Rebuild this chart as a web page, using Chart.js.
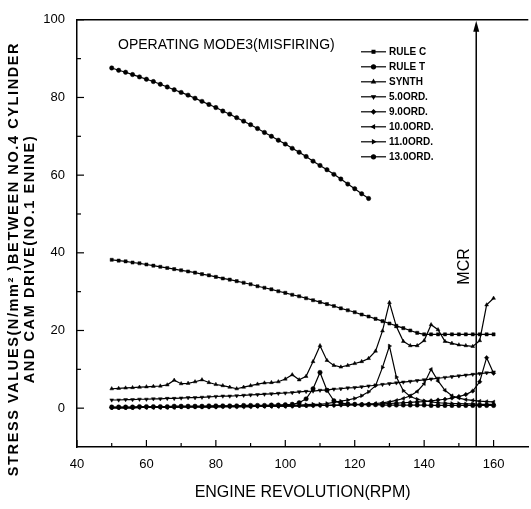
<!DOCTYPE html>
<html><head><meta charset="utf-8">
<script src="https://cdn.jsdelivr.net/npm/chart.js@4/dist/chart.umd.min.js"></script>
<style>html,body{margin:0;padding:0;background:#fff;overflow:hidden}#wrap{width:531px;height:509px;position:relative}</style>
</head><body><div id="wrap"><canvas id="c" width="531" height="509"></canvas></div>
<script>
// ---- data ----
const rpm = [50,52,54,56,58,60,62,64,66,68,70,72,74,76,78,80,82,84,86,88,90,92,94,96,98,100,102,104,106,108,110,112,114,116,118,120,122,124,126,128,130,132,134,136,138,140,142,144,146,148,150,152,154,156,158,160];
const rpmRuleT = [50,52,54,56,58,60,62,64,66,68,70,72,74,76,78,80,82,84,86,88,90,92,94,96,98,100,102,104,106,108,110,112,114,116,118,120,122,124];
const ruleC = [38.2,38.0,37.8,37.5,37.3,37.0,36.7,36.4,36.1,35.8,35.5,35.2,34.9,34.5,34.2,33.8,33.4,33.1,32.7,32.3,31.9,31.4,31.0,30.6,30.1,29.7,29.2,28.8,28.3,27.8,27.3,26.8,26.3,25.7,25.2,24.7,24.1,23.6,23.0,22.4,21.8,21.2,20.6,20.0,19.4,19.0,19.0,19.0,19.0,19.0,19.0,19.0,19.0,19.0,19.0,19.0];
const ruleT = [87.6,87.0,86.5,85.9,85.3,84.7,84.1,83.4,82.7,82.0,81.3,80.6,79.8,79.0,78.2,77.4,76.5,75.7,74.8,73.9,73.0,72.0,71.0,70.0,69.0,68.0,66.9,65.9,64.8,63.6,62.5,61.4,60.2,59.0,57.7,56.5,55.2,54.0];
const synth = [5.0,5.1,5.2,5.3,5.4,5.5,5.6,5.7,6.0,7.2,6.3,6.4,6.8,7.3,6.6,6.1,5.8,5.4,5.0,5.4,5.8,6.2,6.5,6.6,6.8,7.5,8.6,7.3,8.2,12.0,16.1,12.3,11.0,10.6,11.0,11.5,12.0,12.8,14.7,19.9,27.2,21.0,17.2,16.1,16.1,17.4,21.5,20.2,17.2,16.7,16.3,16.1,15.9,17.4,26.6,28.3];
const ord5 = [2.1,2.1,2.2,2.2,2.3,2.3,2.4,2.4,2.5,2.5,2.6,2.7,2.7,2.8,2.9,3.0,3.1,3.1,3.2,3.3,3.4,3.5,3.6,3.7,3.8,3.9,4.0,4.2,4.3,4.4,4.6,4.7,4.9,5.0,5.2,5.3,5.5,5.7,5.9,6.1,6.3,6.5,6.7,6.9,7.1,7.3,7.5,7.7,7.9,8.1,8.3,8.5,8.7,8.9,9.1,9.3];
const ord9 = [0.1,0.1,0.1,0.1,0.2,0.2,0.2,0.2,0.2,0.2,0.3,0.3,0.3,0.3,0.3,0.3,0.4,0.4,0.4,0.4,0.4,0.5,0.5,0.5,0.5,0.5,0.5,0.6,0.6,0.6,0.7,0.7,0.7,0.8,0.8,0.9,0.9,1.0,1.0,1.1,1.2,1.3,1.4,1.5,1.6,1.7,1.9,2.1,2.3,2.6,3.0,3.5,4.4,6.8,13.0,9.0];
const ord10 = [0.1,0.1,0.1,0.1,0.2,0.2,0.2,0.2,0.2,0.2,0.3,0.3,0.3,0.3,0.3,0.3,0.4,0.4,0.4,0.4,0.4,0.5,0.5,0.5,0.5,0.5,0.6,0.6,0.6,0.7,0.7,0.7,0.8,0.8,0.9,0.9,1.0,1.1,1.2,1.4,1.6,2.0,2.5,3.2,4.3,6.3,10.0,7.0,4.6,3.2,2.6,2.2,2.0,1.8,1.7,1.6];
const ord11 = [0.2,0.2,0.2,0.2,0.3,0.3,0.3,0.3,0.3,0.3,0.4,0.4,0.4,0.4,0.4,0.5,0.5,0.5,0.5,0.6,0.6,0.6,0.6,0.7,0.7,0.7,0.8,0.8,0.9,1.0,1.0,1.2,1.5,1.8,2.1,2.5,3.2,4.2,5.8,10.5,16.0,8.0,4.5,3.0,2.3,1.9,1.6,1.4,1.3,1.2,1.2,1.1,1.1,1.0,1.0,1.0];
const ord13 = [0.3,0.3,0.3,0.3,0.4,0.4,0.4,0.4,0.4,0.5,0.5,0.5,0.5,0.5,0.6,0.6,0.6,0.6,0.6,0.7,0.7,0.7,0.7,0.8,0.8,0.9,1.0,1.4,2.4,5.0,9.2,4.6,1.9,1.3,1.1,1.0,0.9,0.9,0.9,0.8,0.8,0.8,0.8,0.8,0.8,0.8,0.7,0.7,0.7,0.7,0.7,0.7,0.7,0.7,0.7,0.7];
const seriesNames = ["RULE C","RULE T","SYNTH","5.0ORD.","9.0ORD.","10.0ORD.","11.0ORD.","13.0ORD."];
const xTickLabels = [40,60,80,100,120,140,160];
const xMinorTicks = [50,70,90,110,130,150];
const yTickLabels = [0,20,40,60,80,100];
const yMinorTicks = [10,30,50,70,90];
const mcrRpm = 155;
const chartTitle = "OPERATING MODE3(MISFIRING)";
const xTitle = "ENGINE REVOLUTION(RPM)";
const yTitleLines = ["STRESS VALUES(N/mm\u00B2 )BETWEEN NO.4 CYLINDER", "AND CAM DRIVE(NO.1 ENINE)"];

// ---- styling ----
const NARROW = '"Liberation Sans Narrow", "Liberation Sans", Arial, sans-serif';
const SANS = '"Liberation Sans", Arial, sans-serif';
const styles = [
  {pointStyle:'rect', rotation:0},
  {pointStyle:'circle', rotation:0},
  {pointStyle:'triangle', rotation:0},
  {pointStyle:'triangle', rotation:180},
  {pointStyle:'rectRot', rotation:0},
  {pointStyle:'triangle', rotation:-90},
  {pointStyle:'triangle', rotation:90},
  {pointStyle:'circle', rotation:0}
];
const seriesValues = [ruleC, ruleT, synth, ord5, ord9, ord10, ord11, ord13];
const seriesX = [rpm, rpmRuleT, rpm, rpm, rpm, rpm, rpm, rpm];

const datasets = seriesNames.map((name, i) => ({
  label: name,
  data: seriesValues[i].map((v, k) => ({x: seriesX[i][k], y: v})),
  borderColor: '#000',
  backgroundColor: '#000',
  borderWidth: 1.2,
  pointRadius: 2.2,
  pointHoverRadius: 2.2,
  pointBackgroundColor: '#000',
  pointBorderColor: '#000',
  pointBorderWidth: 0.5,
  pointStyle: styles[i].pointStyle,
  pointRotation: styles[i].rotation,
  tension: 0,
  fill: false
}));

function drawMarker(ctx, style, rotation, r, x, y) {
  if (Chart.helpers && Chart.helpers.drawPoint) {
    Chart.helpers.drawPoint(ctx, {pointStyle: style, rotation: rotation, radius: r, borderWidth: 0.5}, x, y);
    return;
  }
  ctx.beginPath(); ctx.arc(x, y, r, 0, Math.PI*2); ctx.fill();
}

const decor = {
  id: 'decor',
  afterDatasetsDraw(chart) {
    const {ctx, chartArea: a, scales: {x, y}} = chart;
    ctx.save();
    ctx.strokeStyle = '#000'; ctx.fillStyle = '#000';
    const line = (x1, y1, x2, y2) => { ctx.beginPath(); ctx.moveTo(x1, y1); ctx.lineTo(x2, y2); ctx.stroke(); };
    // top frame line
    ctx.lineWidth = 1.5;
    line(a.left, a.top, a.right, a.top);
    // ticks (inward)
    ctx.lineWidth = 1.2;
    xTickLabels.forEach(v => { const p = x.getPixelForValue(v); line(p, a.bottom, p, a.bottom - 7); });
    xMinorTicks.forEach(v => { const p = x.getPixelForValue(v); line(p, a.bottom, p, a.bottom - 4); });
    yTickLabels.forEach(v => { const p = y.getPixelForValue(v); line(a.left, p, a.left + 7, p); });
    yMinorTicks.forEach(v => { const p = y.getPixelForValue(v); line(a.left, p, a.left + 4, p); });
    // MCR line + arrow
    const mx = x.getPixelForValue(mcrRpm);
    ctx.lineWidth = 1.5;
    line(mx, a.bottom, mx, a.top + 8);
    ctx.beginPath(); ctx.moveTo(mx, a.top + 1); ctx.lineTo(mx - 3, a.top + 12); ctx.lineTo(mx + 3, a.top + 12); ctx.closePath(); ctx.fill();
    // MCR label
    ctx.save();
    ctx.translate(mx - 12, y.getPixelForValue(36.5));
    ctx.rotate(-Math.PI / 2);
    ctx.font = '16px ' + NARROW;
    ctx.textAlign = 'center'; ctx.textBaseline = 'middle';
    ctx.fillText('MCR', 0, 0);
    ctx.restore();
    // chart title inside plot
    ctx.font = '14px ' + NARROW;
    ctx.textAlign = 'left'; ctx.textBaseline = 'middle';
    ctx.fillText(chartTitle, a.left + 41, a.top + 25);
    // legend
    ctx.font = 'bold 10px ' + NARROW;
    seriesNames.forEach((name, i) => {
      const ly = a.top + 32 + 15 * i;
      ctx.lineWidth = 1.2;
      line(a.left + 284, ly, a.left + 309, ly);
      drawMarker(ctx, styles[i].pointStyle, styles[i].rotation, 2, a.left + 296.5, ly);
      ctx.fillStyle = '#000';
      ctx.textAlign = 'left'; ctx.textBaseline = 'middle';
      ctx.fillText(name, a.left + 312, ly + 0.5);
    });
    // y axis title (two rotated lines)
    ctx.font = 'bold 14.5px ' + SANS;
    if ('letterSpacing' in ctx) ctx.letterSpacing = '1.6px';
    ctx.textAlign = 'center'; ctx.textBaseline = 'middle';
    [14, 30].forEach((tx, i) => {
      ctx.save();
      ctx.translate(tx, 259);
      ctx.rotate(-Math.PI / 2);
      ctx.fillText(yTitleLines[i], 0, 0);
      ctx.restore();
    });
    if ('letterSpacing' in ctx) ctx.letterSpacing = '0px';
    ctx.restore();
  }
};

new Chart(document.getElementById('c'), {
  type: 'line',
  data: {datasets},
  options: {
    responsive: false,
    animation: false,
    devicePixelRatio: 1,
    layout: {padding: {top: 17, right: 0, left: 0, bottom: 0}},
    plugins: {legend: {display: false}, tooltip: {enabled: false}, title: {display: false}},
    scales: {
      x: {
        type: 'linear', min: 40, max: 170,
        afterBuildTicks: s => { s.ticks = xTickLabels.map(v => ({value: v})); },
        afterFit: s => { s.height = 62; },
        grid: {display: false, drawTicks: false},
        border: {display: true, color: '#000', width: 1.5},
        ticks: {color: '#000', padding: 10, maxRotation: 0, font: {family: NARROW, size: 13}},
        title: {display: true, text: xTitle, color: '#000', padding: {top: 0, bottom: 7}, font: {family: NARROW, size: 16}}
      },
      y: {
        type: 'linear', min: -10, max: 100,
        afterBuildTicks: s => { s.ticks = yTickLabels.map(v => ({value: v})); },
        afterFit: s => { s.width = 77; },
        grid: {display: false, drawTicks: false},
        border: {display: true, color: '#000', width: 1.5},
        ticks: {color: '#000', padding: 12, font: {family: NARROW, size: 13}},
        title: {display: false}
      }
    }
  },
  plugins: [decor]
});
</script>
</body></html>
